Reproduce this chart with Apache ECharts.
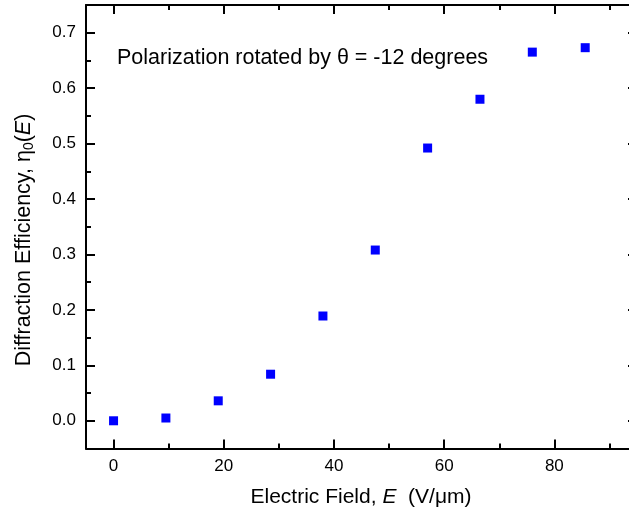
<!DOCTYPE html>
<html>
<head>
<meta charset="utf-8">
<script src="https://cdn.jsdelivr.net/npm/echarts@6/dist/echarts.min.js"></script>
<style>
html,body{margin:0;padding:0;background:#fff;}
#chart{width:629px;height:516px;}
</style>
</head>
<body>
<div id="chart"></div>
<script>
// Data
const fieldValues = [0, 9.5, 19, 28.5, 38, 47.5, 57, 66.5, 76, 85.6];
const efficiencyValues = [0.000, 0.005, 0.036, 0.084, 0.189, 0.308, 0.492, 0.580, 0.665, 0.673];
const xMajorTicks = [0, 20, 40, 60, 80];
const xMinorTicks = [10, 30, 50, 70, 90];
const yMajorTicks = [0, 0.1, 0.2, 0.3, 0.4, 0.5, 0.6, 0.7];
const yMinorTicks = [0.05, 0.15, 0.25, 0.35, 0.45, 0.55, 0.65];
const xRange = [-5, 95];
const yRange = [-0.05, 0.75];
const annotationText = 'Polarization rotated by θ = -12 degrees';

const FONT = '"Liberation Sans", Arial, sans-serif';
const lineStyle = { color: '#000', width: 2 };

function xAx(position, ticks, len, showLabel, showLine) {
  return {
    type: 'value', position: position, min: xRange[0], max: xRange[1],
    axisLine: { show: showLine, onZero: false, lineStyle: lineStyle },
    axisTick: { show: true, inside: true, length: len, customValues: ticks, lineStyle: lineStyle },
    axisLabel: showLabel ? { show: true, customValues: ticks, color: '#000', fontSize: 17, fontFamily: FONT, margin: 9 } : { show: false },
    splitLine: { show: false }
  };
}
function yAx(position, ticks, len, showLabel, showLine) {
  return {
    type: 'value', position: position, min: yRange[0], max: yRange[1],
    axisLine: { show: showLine, onZero: false, lineStyle: lineStyle },
    axisTick: { show: true, inside: true, length: len, customValues: ticks, lineStyle: lineStyle },
    axisLabel: showLabel ? { show: true, customValues: ticks, color: '#000', fontSize: 17, fontFamily: FONT, margin: 10,
      formatter: v => v.toFixed(1) } : { show: false },
    splitLine: { show: false }
  };
}

const chart = echarts.init(document.getElementById('chart'), null, { renderer: 'canvas' });
chart.setOption({
  animation: false,
  backgroundColor: '#fff',
  grid: { left: 86, top: 5, width: 551, height: 443.5, containLabel: false, outerBoundsMode: 'none' },
  xAxis: [
    xAx('bottom', xMajorTicks, 9, true, true),
    xAx('bottom', xMinorTicks, 5, false, false),
    xAx('top', xMajorTicks, 9, false, true),
    xAx('top', xMinorTicks, 5, false, false)
  ],
  yAxis: [
    yAx('left', yMajorTicks, 9, true, true),
    yAx('left', yMinorTicks, 5, false, false),
    yAx('right', yMajorTicks, 9, false, true),
    yAx('right', yMinorTicks, 5, false, false)
  ],
  series: [{
    type: 'scatter',
    xAxisIndex: 0, yAxisIndex: 0,
    symbol: 'rect', symbolSize: 9,
    itemStyle: { color: '#0000ff', opacity: 1 },
    data: fieldValues.map((x, i) => [x, efficiencyValues[i]])
  }],
  graphic: [
    {
      type: 'text', left: 117, top: 47,
      style: { text: annotationText, fill: '#000', font: '21.5px ' + FONT }
    },
    {
      type: 'text', x: 361, y: 497,
      style: {
        text: '{n|Electric Field, }{i|E}{n|  (V/μm)}',
        align: 'center', verticalAlign: 'middle',
        rich: {
          n: { fontSize: 21, fontFamily: FONT, fill: '#000' },
          i: { fontSize: 21, fontFamily: FONT, fontStyle: 'italic', fill: '#000' }
        }
      }
    },
    {
      type: 'text', x: 24, y: 240, rotation: Math.PI / 2,
      style: {
        text: '{n|Diffraction Efficiency, η}{s|0}{n|(}{i|E}{n|)}',
        align: 'center', verticalAlign: 'middle',
        rich: {
          n: { fontSize: 21.5, fontFamily: FONT, fill: '#000' },
          s: { fontSize: 14, fontFamily: FONT, fill: '#000', padding: [10, 0, 0, 0] },
          i: { fontSize: 21.5, fontFamily: FONT, fontStyle: 'italic', fill: '#000' }
        }
      }
    }
  ]
});
</script>
</body>
</html>
